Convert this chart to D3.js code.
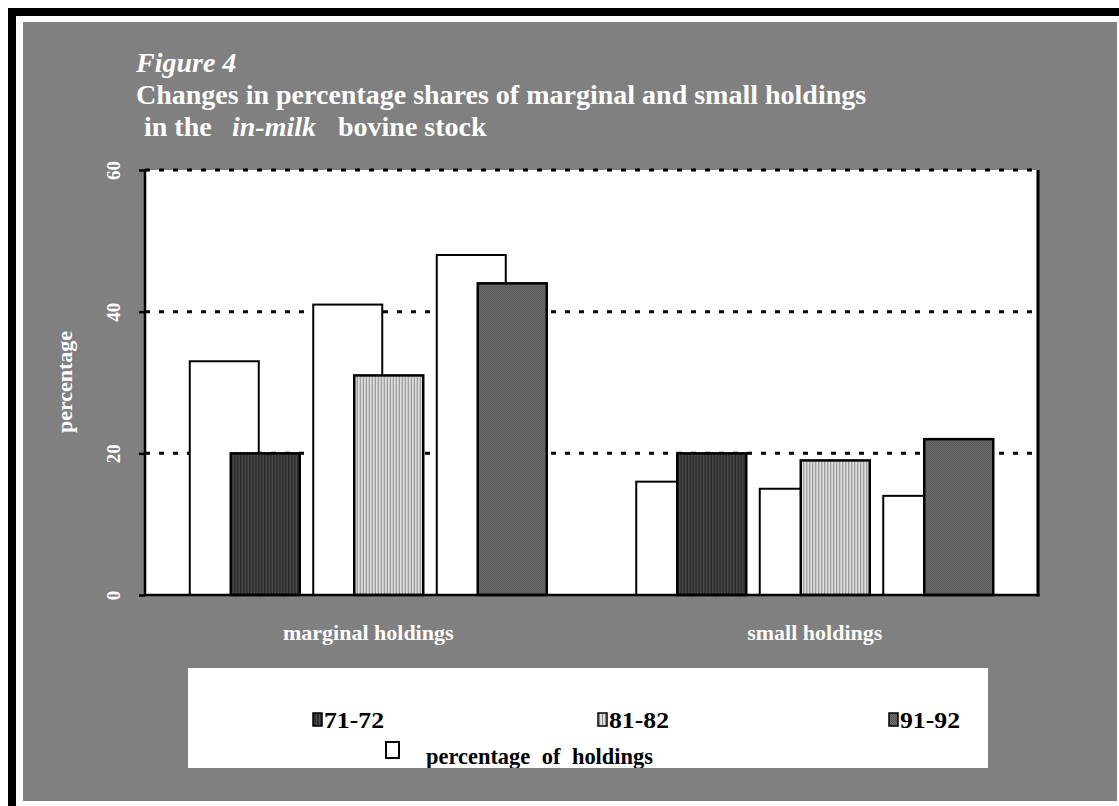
<!DOCTYPE html>
<html>
<head>
<meta charset="utf-8">
<script src="https://cdn.jsdelivr.net/npm/d3@7"></script>
<style>
  body { margin: 0; background: #fff; }
  svg { display: block; font-family: "Liberation Serif", "Times New Roman", serif; }
  .wt { fill: #fff; font-weight: bold; }
</style>
</head>
<body>
<div id="chart"></div>
<script>
// data
var categories = ["marginal holdings", "small holdings"];
var periods = ["71-72", "81-82", "91-92"];
var holdingsPct = [[33, 41, 48], [16, 15, 14]];   // white bars, percentage of holdings
var stockPct = [[20, 31, 44], [20, 19, 22]];      // in-milk bovine stock share
var yTicks = [0, 20, 40, 60];

var width = 1119, height = 806;
var plot = {left: 145, right: 1038, top: 170, bottom: 595};

var svg = d3.select("#chart").append("svg")
    .attr("width", width)
    .attr("height", height);

// patterns for the period fills
var defs = svg.append("defs");
var p1 = defs.append("pattern").attr("id", "p71").attr("patternUnits", "userSpaceOnUse")
    .attr("width", 3).attr("height", 2);
p1.append("rect").attr("width", 3).attr("height", 2).attr("fill", "#2e2e2e");
p1.append("rect").attr("x", 1).attr("width", 1).attr("height", 2).attr("fill", "#525252");

var p2 = defs.append("pattern").attr("id", "p81").attr("patternUnits", "userSpaceOnUse")
    .attr("width", 3).attr("height", 2);
p2.append("rect").attr("width", 3).attr("height", 2).attr("fill", "#dcdcdc");
p2.append("rect").attr("x", 2).attr("width", 1).attr("height", 2).attr("fill", "#8a8a8a");

var p3 = defs.append("pattern").attr("id", "p91").attr("patternUnits", "userSpaceOnUse")
    .attr("width", 2).attr("height", 2);
p3.append("rect").attr("width", 2).attr("height", 2).attr("fill", "#707070");
p3.append("rect").attr("width", 1).attr("height", 1).attr("fill", "#545454");
p3.append("rect").attr("x", 1).attr("y", 1).attr("width", 1).attr("height", 1).attr("fill", "#545454");

var fills = ["url(#p71)", "url(#p81)", "url(#p91)"];

// frame and gray panel
svg.append("rect").attr("x", 8).attr("y", 8).attr("width", width - 8).attr("height", 8).attr("fill", "#000");
svg.append("rect").attr("x", 8).attr("y", 8).attr("width", 8).attr("height", height - 8).attr("fill", "#000");
svg.append("rect").attr("x", 23).attr("y", 22).attr("width", 1094).attr("height", 779).attr("fill", "#808080");

// title
svg.append("text").attr("class", "wt").attr("x", 136).attr("y", 72)
    .style("font-size", "28px").style("font-style", "italic").text("Figure 4");
svg.append("text").attr("class", "wt").attr("x", 136).attr("y", 104)
    .style("font-size", "28px").text("Changes in percentage shares of marginal and small holdings");
var t3 = svg.append("text").attr("class", "wt").attr("x", 144).attr("y", 136).style("font-size", "28px");
t3.append("tspan").text("in the");
t3.append("tspan").attr("x", 232).style("font-style", "italic").text("in-milk");
t3.append("tspan").attr("x", 338).text("bovine stock");

// scales
var y = d3.scaleLinear().domain([0, 60]).range([plot.bottom, plot.top]);
var x0 = d3.scaleBand().domain(categories).range([plot.left, plot.right]);
var x1 = d3.scaleBand().domain(periods).range([0, 370.5]);
var groupOffset = 44.75, barW = 69, shift = 41;

// plot background
svg.append("rect").attr("x", plot.left).attr("y", plot.top)
    .attr("width", plot.right - plot.left).attr("height", plot.bottom - plot.top)
    .attr("fill", "#fff");

// dotted gridlines
svg.append("g").selectAll("line").data(yTicks.filter(function (d) { return d > 0; }))
  .join("line")
    .attr("x1", plot.left).attr("x2", plot.right)
    .attr("y1", function (d) { return y(d); }).attr("y2", function (d) { return y(d); })
    .attr("stroke", "#000").attr("stroke-width", 3).attr("stroke-dasharray", "5,9");

// bars
var groups = svg.append("g").selectAll("g").data(categories).join("g")
    .attr("transform", function (c) { return "translate(" + (x0(c) + groupOffset) + ",0)"; });

groups.each(function (c, ci) {
  var g = d3.select(this);
  periods.forEach(function (p, pi) {
    g.append("rect")
        .attr("x", x1(p)).attr("y", y(holdingsPct[ci][pi]))
        .attr("width", barW).attr("height", y(0) - y(holdingsPct[ci][pi]))
        .attr("fill", "#fff").attr("stroke", "#000").attr("stroke-width", 2);
    g.append("rect")
        .attr("x", x1(p) + shift).attr("y", y(stockPct[ci][pi]))
        .attr("width", barW).attr("height", y(0) - y(stockPct[ci][pi]))
        .attr("fill", fills[pi]).attr("stroke", "#000").attr("stroke-width", 2.5);
  });
});

// right border
svg.append("line").attr("x1", plot.right).attr("x2", plot.right)
    .attr("y1", plot.top).attr("y2", plot.bottom + 1.5)
    .attr("stroke", "#000").attr("stroke-width", 3);

// y axis
var yAxis = svg.append("g").attr("transform", "translate(" + plot.left + ",0)")
    .call(d3.axisLeft(y).tickValues(yTicks).tickSize(6).tickFormat(d3.format("d")));
yAxis.select(".domain").attr("stroke", "#000").attr("stroke-width", 2.5)
    .attr("d", "M0," + (plot.top - 1) + "V" + plot.bottom);
yAxis.selectAll(".tick line").attr("stroke", "#000").attr("stroke-width", 2.5);
yAxis.selectAll(".tick text")
    .attr("x", null).attr("dy", null)
    .attr("transform", "translate(-32,0) rotate(-90)")
    .attr("text-anchor", "middle").attr("dominant-baseline", "central")
    .attr("fill", "#fff").style("font-size", "19px").style("font-weight", "bold")
    .style("font-family", "Liberation Serif, serif");

// x axis
var xAxis = svg.append("g").attr("transform", "translate(0," + plot.bottom + ")")
    .call(d3.axisBottom(x0).tickSize(0).tickPadding(0));
xAxis.select(".domain").attr("stroke", "#000").attr("stroke-width", 2.5)
    .attr("d", "M" + plot.left + ",0H" + (plot.right + 1.5));
xAxis.selectAll(".tick text")
    .attr("y", 45).attr("dy", null)
    .attr("fill", "#fff").style("font-size", "22px").style("font-weight", "bold")
    .style("font-family", "Liberation Serif, serif");

// y title
svg.append("text").attr("class", "wt")
    .attr("transform", "translate(72,382) rotate(-90)")
    .attr("text-anchor", "middle").style("font-size", "22px").text("percentage");

// legend
var lg = svg.append("g");
defs.append("clipPath").attr("id", "lgclip").append("rect")
    .attr("x", 188).attr("y", 668).attr("width", 800).attr("height", 100);
lg.append("rect").attr("x", 188).attr("y", 668).attr("width", 800).attr("height", 100).attr("fill", "#fff");
var lgi = lg.append("g").attr("clip-path", "url(#lgclip)");
var lgX = [313, 598, 889];
periods.forEach(function (p, i) {
  lgi.append("rect").attr("x", lgX[i]).attr("y", 713).attr("width", 9).attr("height", 13)
      .attr("fill", fills[i]).attr("stroke", "#000").attr("stroke-width", 1.5);
  lgi.append("text").attr("x", lgX[i] + 11).attr("y", 728)
      .attr("textLength", 60).attr("lengthAdjust", "spacingAndGlyphs")
      .style("font-size", "23px").style("font-weight", "bold").text(p);
});
lgi.append("rect").attr("x", 386).attr("y", 742).attr("width", 13).attr("height", 16)
    .attr("fill", "#fff").attr("stroke", "#000").attr("stroke-width", 2);
lgi.append("text").attr("x", 426).attr("y", 764)
    .attr("textLength", 227).attr("lengthAdjust", "spacingAndGlyphs")
    .style("font-size", "23px").style("font-weight", "bold").style("word-spacing", "6px")
    .text("percentage of holdings");
</script>
</body>
</html>
